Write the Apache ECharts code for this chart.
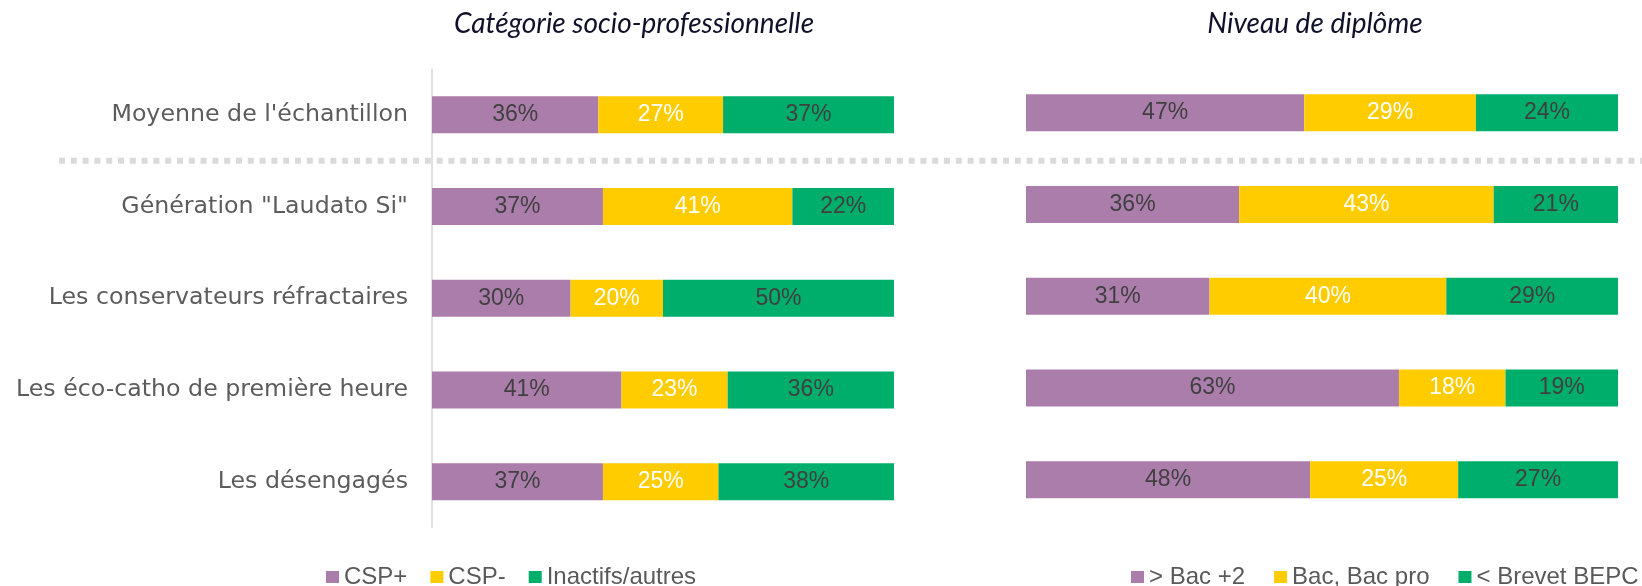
<!DOCTYPE html>
<html lang="fr">
<head>
<meta charset="utf-8">
<title>Profils : CSP et niveau de diplôme</title>
<script src="https://cdn.jsdelivr.net/npm/echarts@6/dist/echarts.min.js"></script>
<style>
  html, body { margin: 0; padding: 0; background: #ffffff; }
  #chart { width: 1642px; height: 586px; }
</style>
</head>
<body>
<div id="chart"></div>
<script>
// Profiles, top to bottom
const categories = [
  "Moyenne de l'échantillon",
  'Génération "Laudato Si"',
  'Les conservateurs réfractaires',
  'Les éco-catho de première heure',
  'Les désengagés'
];

// Panel titles
const panelTitles = ['Catégorie socio-professionnelle', 'Niveau de diplôme'];

// Socio-professional category (%)
const cspNames = ['CSP+', 'CSP-', 'Inactifs/autres'];
const cspPlus = [36, 37, 30, 41, 37];
const cspMinus = [27, 41, 20, 23, 25];
const cspInactive = [37, 22, 50, 36, 38];

// Education level (%)
const dipNames = ['> Bac +2', 'Bac, Bac pro', '< Brevet BEPC'];
const dipHigh = [47, 36, 31, 63, 48];
const dipBac = [29, 43, 40, 18, 25];
const dipLow = [24, 21, 29, 19, 27];

const colors = ['#AB7DAB', '#FFCC00', '#00AE6B'];
const labelColors = ['#404040', '#ffffff', '#404040'];

const chart = echarts.init(document.getElementById('chart'), null, { renderer: 'canvas' });

function stackSeries(names, values, axisIndex) {
  return names.map((name, i) => ({
    name: name,
    type: 'bar',
    stack: 'panel' + axisIndex,
    xAxisIndex: axisIndex,
    yAxisIndex: axisIndex,
    barWidth: 37,
    data: values[i],
    itemStyle: { color: colors[i] },
    label: {
      show: true,
      position: 'inside',
      formatter: p => p.value + '%',
      color: labelColors[i],
      fontFamily: '"Liberation Sans", Arial, sans-serif',
      fontSize: 23
    },
    emphasis: { disabled: true }
  }));
}

const titleStyle = {
  fontFamily: 'Lato, sans-serif',
  fontStyle: 'italic',
  fontWeight: 'normal',
  fontSize: 28,
  color: '#10102a'
};

const legendText = {
  fontFamily: '"Liberation Sans", Arial, sans-serif',
  fontSize: 24,
  color: '#595959'
};

const option = {
  animation: false,
  backgroundColor: '#ffffff',
  title: [
    { text: panelTitles[0], left: 634, top: 10, padding: 0, textAlign: 'center', textStyle: titleStyle },
    { text: panelTitles[1], left: 1315, top: 10, padding: 0, textAlign: 'center', textStyle: titleStyle }
  ],
  legend: [
    {
      data: cspNames,
      left: 326, top: 565, padding: 0,
      itemWidth: 13, itemHeight: 12, itemGap: 23,
      icon: 'rect',
      textStyle: legendText,
      selectedMode: false
    },
    {
      data: dipNames,
      left: 1131, top: 565, padding: 0, width: 520,
      itemWidth: 13, itemHeight: 12, itemGap: 29,
      icon: 'rect',
      textStyle: legendText,
      selectedMode: false
    }
  ],
  grid: [
    { left: 432, right: 748, top: 69, bottom: 58.5 },
    { left: 1026, right: 24, top: 67, bottom: 60.5 }
  ],
  xAxis: [
    { type: 'value', gridIndex: 0, min: 0, max: 100, show: false },
    { type: 'value', gridIndex: 1, min: 0, max: 100, show: false }
  ],
  yAxis: [
    {
      type: 'category', gridIndex: 0, data: categories, inverse: true,
      axisLine: { show: true, lineStyle: { color: '#d6d6d6', width: 1.5 } },
      axisTick: { show: false },
      splitLine: { show: false },
      axisLabel: {
        margin: 24,
        fontFamily: '"DejaVu Sans", sans-serif',
        fontSize: 23.7,
        color: '#5c5c5c'
      }
    },
    {
      type: 'category', gridIndex: 1, data: categories, inverse: true, show: false
    }
  ],
  series: [
    ...stackSeries(cspNames, [cspPlus, cspMinus, cspInactive], 0),
    ...stackSeries(dipNames, [dipHigh, dipBac, dipLow], 1)
  ]
};

chart.setOption(option);

// Dotted separator between the sample average and the profiles
const yA = chart.convertToPixel({ yAxisIndex: 0 }, categories[0]);
const yB = chart.convertToPixel({ yAxisIndex: 0 }, categories[1]);
const ySep = (yA + yB) / 2;
chart.setOption({
  graphic: [{
    type: 'line',
    z: 100,
    shape: { x1: 59, y1: ySep, x2: 1642, y2: ySep },
    style: { stroke: '#dadada', lineWidth: 6, lineDash: [6, 5.8], lineCap: 'butt' },
    silent: true
  }]
});
</script>
</body>
</html>
